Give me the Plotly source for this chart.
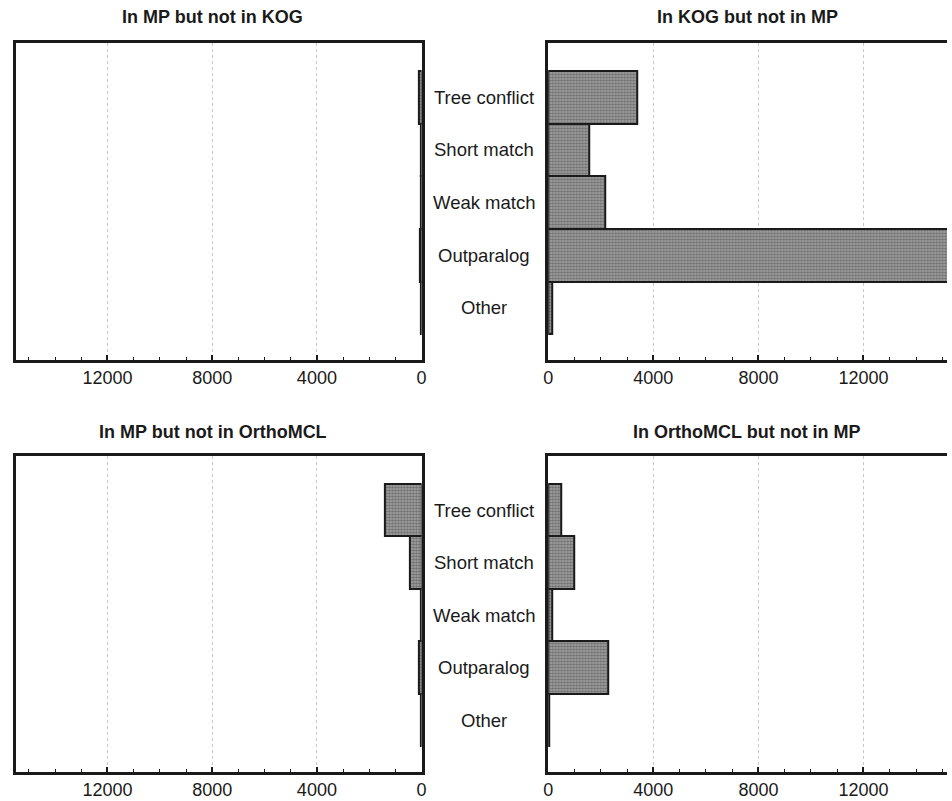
import plotly.graph_objects as go

categories = ["Tree conflict", "Short match", "Weak match", "Outparalog", "Other"]
mp_not_kog = [100, 40, 40, 60, 30]
kog_not_mp = [3400, 1550, 2180, 16500, 150]
mp_not_orthomcl = [1400, 450, 30, 100, 30]
orthomcl_not_mp = [500, 980, 160, 2280, 20]
titles = ["In MP but not in KOG", "In KOG but not in MP",
          "In MP but not in OrthoMCL", "In OrthoMCL but not in MP"]
tick_vals = [0, 4000, 8000, 12000]
tick_text = ["0", "4000", "8000", "12000"]

W, H = 952, 801
FONT = "Liberation Sans, Arial, sans-serif"

def px(xp):
    return xp / W

def py(yp):
    return 1 - yp / H

panels = [
    dict(vals=mp_not_kog, side="left", xd=(11, 421), yd=(43, 360)),
    dict(vals=kog_not_mp, side="right", xd=(549, 952), yd=(43, 360)),
    dict(vals=mp_not_orthomcl, side="left", xd=(11, 421), yd=(456, 772)),
    dict(vals=orthomcl_not_mp, side="right", xd=(549, 952), yd=(456, 772)),
]

fig = go.Figure()
ypos = list(range(len(categories)))
for i, p in enumerate(panels):
    n = i + 1
    xa = "x" if n == 1 else f"x{n}"
    ya = "y" if n == 1 else f"y{n}"
    fig.add_trace(go.Bar(
        x=p["vals"], y=ypos, orientation="h", xaxis=xa, yaxis=ya,
        width=1.0,
        marker=dict(
            color="#8c8c8c",
            line=dict(color="#1a1a1a", width=2),
            pattern=dict(shape=".", size=3, solidity=0.55,
                         fgcolor="#3c3c3c", bgcolor="#a6a6a6"),
        ),
        showlegend=False, hoverinfo="skip",
    ))
    left = p["side"] == "left"
    xrng = [15500, 0] if left else [0, (952 - 549) / 26.55 * 1000]
    xkey = "xaxis" if n == 1 else f"xaxis{n}"
    ykey = "yaxis" if n == 1 else f"yaxis{n}"
    fig.update_layout(**{
        xkey: dict(
            domain=[px(p["xd"][0]), px(p["xd"][1])],
            anchor=ya, range=xrng, autorange=False,
            tickvals=tick_vals, ticktext=tick_text,
            ticks="inside", ticklen=5, tickwidth=1.5, tickcolor="#1a1a1a",
            minor=dict(dtick=1000, tick0=0, ticks="inside", ticklen=3,
                       tickwidth=1.2, tickcolor="#1a1a1a", showgrid=False),
            showline=True, linecolor="#1a1a1a", linewidth=2.5, mirror=True,
            showgrid=True, gridcolor="#c8c8c8", griddash="dot", gridwidth=1,
            zeroline=False,
            tickfont=dict(family=FONT, size=18, color="#1a1a1a"),
            fixedrange=True,
        ),
        ykey: dict(
            domain=[py(p["yd"][1]), py(p["yd"][0])],
            anchor=xa, range=[4.99, -1.03], autorange=False,
            showticklabels=False, ticks="", showgrid=False, zeroline=False,
            showline=True, linecolor="#1a1a1a", linewidth=2.5,
            side="right" if left else "left",
            mirror=True if left else False,
            fixedrange=True,
        ),
    })

annotations = []
title_pos = [(210, 17), (750, 17), (210, 432), (750, 432)]
for t, (xp, yp) in zip(titles, title_pos):
    annotations.append(dict(
        text=f"<b>{t}</b>", x=px(xp), y=py(yp), xref="paper", yref="paper",
        showarrow=False, xanchor="center", yanchor="middle",
        font=dict(family=FONT, size=18, color="#1a1a1a"),
    ))
for yname in ["y2", "y4"]:
    for j, c in enumerate(categories):
        annotations.append(dict(
            text=c, x=px(484), y=j, xref="paper", yref=yname,
            showarrow=False, xanchor="center", yanchor="middle",
            font=dict(family=FONT, size=18.5, color="#1a1a1a"),
        ))

fig.update_layout(
    width=W, height=H, margin=dict(l=0, r=0, t=0, b=0),
    paper_bgcolor="white", plot_bgcolor="white",
    bargap=0, annotations=annotations,
)

fig.write_html("out.html", config={"displayModeBar": False},
               post_script="document.body.style.margin='0';document.body.style.overflow='hidden';")
